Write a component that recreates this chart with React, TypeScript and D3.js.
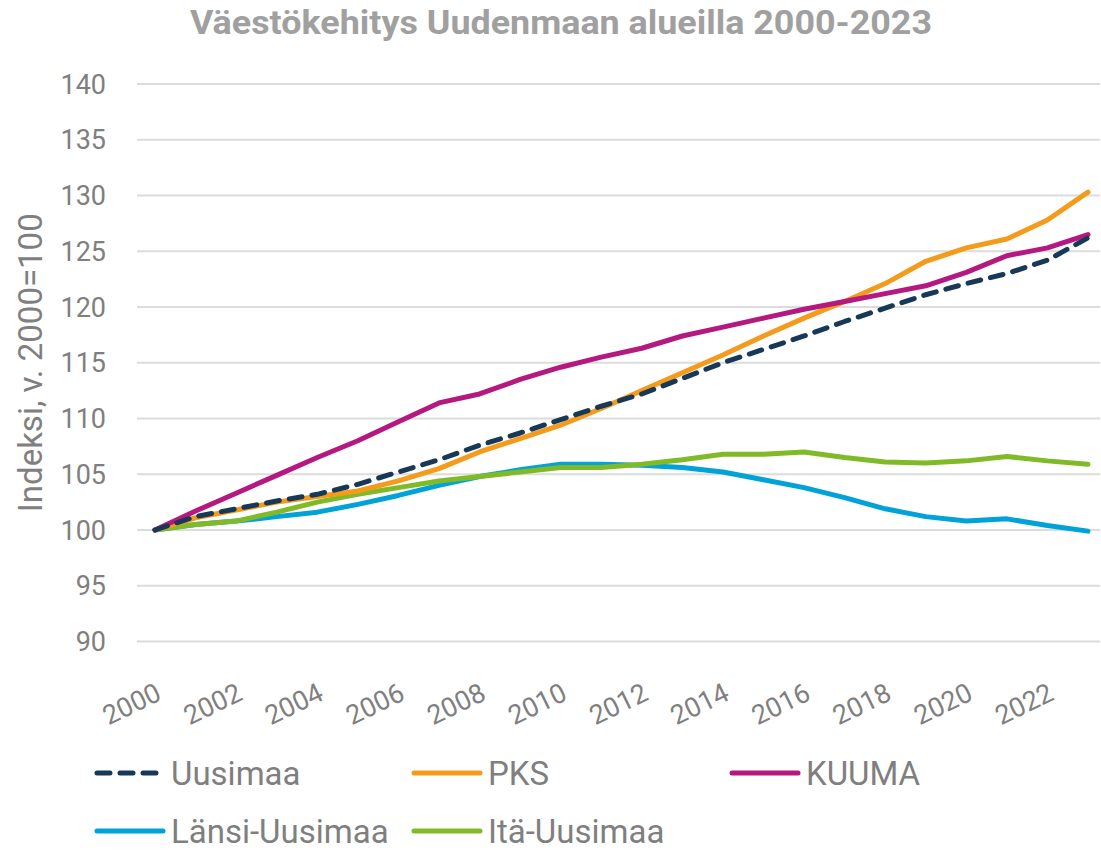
import React from "react";
import * as d3 from "d3";

const years = d3.range(2000, 2024);
const uusimaa = [100, 101.2, 101.9, 102.6, 103.2, 104.1, 105.2, 106.3, 107.6, 108.7, 109.9, 111.1, 112.2, 113.6, 115.0, 116.2, 117.4, 118.7, 119.9, 121.1, 122.1, 123.0, 124.2, 126.2];
const pks = [100, 101.1, 101.8, 102.5, 103.0, 103.5, 104.4, 105.5, 107.0, 108.2, 109.4, 110.9, 112.5, 114.1, 115.7, 117.4, 119.0, 120.5, 122.1, 124.1, 125.3, 126.1, 127.8, 130.3];
const kuuma = [100, 101.7, 103.3, 104.9, 106.5, 108.0, 109.7, 111.4, 112.2, 113.5, 114.6, 115.5, 116.3, 117.4, 118.2, 119.0, 119.8, 120.5, 121.2, 121.9, 123.1, 124.6, 125.3, 126.5];
const lansi = [100, 100.5, 100.8, 101.2, 101.6, 102.3, 103.1, 104.0, 104.8, 105.4, 105.9, 105.9, 105.8, 105.6, 105.2, 104.5, 103.8, 102.9, 101.9, 101.2, 100.8, 101.0, 100.4, 99.9];
const ita = [100, 100.5, 100.8, 101.6, 102.5, 103.2, 103.8, 104.4, 104.8, 105.2, 105.6, 105.6, 105.9, 106.3, 106.8, 106.8, 107.0, 106.5, 106.1, 106.0, 106.2, 106.6, 106.2, 105.9];
const yTicks = [90, 95, 100, 105, 110, 115, 120, 125, 130, 135, 140];
const xTickLabels = [2000, 2002, 2004, 2006, 2008, 2010, 2012, 2014, 2016, 2018, 2020, 2022];

const seriesList = [
  { name: "Länsi-Uusimaa", values: lansi, color: "#00a2d8", dashed: false },
  { name: "Itä-Uusimaa", values: ita, color: "#80bb27", dashed: false },
  { name: "PKS", values: pks, color: "#f49b1c", dashed: false },
  { name: "KUUMA", values: kuuma, color: "#b5197f", dashed: false },
  { name: "Uusimaa", values: uusimaa, color: "#183858", dashed: true },
];

const legendRows = [
  ["Uusimaa", "PKS", "KUUMA"],
  ["Länsi-Uusimaa", "Itä-Uusimaa"],
];

export default function App() {
  const W = 1101, H = 851;
  const x = d3.scaleLinear().domain([2000, 2023]).range([155, 1088]);
  const y = d3.scaleLinear().domain([90, 140]).range([641.5, 84]);
  const line = d3.line<number>().x((_, i) => x(years[i])).y((v) => y(v));
  const font = "Roboto, 'Open Sans', sans-serif";
  const textColor = "#7f7f7f";
  const legendX = [95, 412, 730];
  const legendY = [773, 831];
  const byName = Object.fromEntries(seriesList.map((s) => [s.name, s]));

  return (
    <svg width={W} height={H} style={{ position: "absolute", left: 0, top: 0, background: "#fff" }} fontFamily={font}>
      <text x={561} y={34} textAnchor="middle" fontSize={34} fontWeight="bold" fill="#a0a0a0" textLength={742} lengthAdjust="spacingAndGlyphs">
        Väestökehitys Uudenmaan alueilla 2000-2023
      </text>
      {yTicks.map((t) => (
        <g key={t}>
          <line x1={137} x2={1100} y1={y(t)} y2={y(t)} stroke="#dcdcdc" strokeWidth={2} />
          <text x={106} y={y(t)} dy="0.36em" textAnchor="end" fontSize={27} fill={textColor}>
            {t}
          </text>
        </g>
      ))}
      <text transform={`translate(42,${y(115)}) rotate(-90)`} textAnchor="middle" fontSize={33} fill={textColor}>
        Indeksi, v. 2000=100
      </text>
      {xTickLabels.map((t) => (
        <text key={t} transform={`translate(${x(t) + 8},699) rotate(-26)`} textAnchor="end" fontSize={27} fill={textColor}>
          {t}
        </text>
      ))}
      {seriesList.map((s) => (
        <path
          key={s.name}
          d={line(s.values) || ""}
          fill="none"
          stroke={s.color}
          strokeWidth={5}
          strokeLinejoin="round"
          strokeLinecap="round"
          strokeDasharray={s.dashed ? "13 10" : undefined}
        />
      ))}
      {legendRows.map((row, ri) =>
        row.map((name, ci) => {
          const s = byName[name];
          const lx = legendX[ci];
          const ly = legendY[ri];
          return (
            <g key={name}>
              <line x1={lx + 2} x2={lx + 68} y1={ly} y2={ly} stroke={s.color} strokeWidth={5} strokeLinecap="round" strokeDasharray={s.dashed ? "13 10" : undefined} />
              <text x={lx + 76} y={ly} dy="0.35em" fontSize={33} fill={textColor}>
                {name}
              </text>
            </g>
          );
        })
      )}
    </svg>
  );
}
